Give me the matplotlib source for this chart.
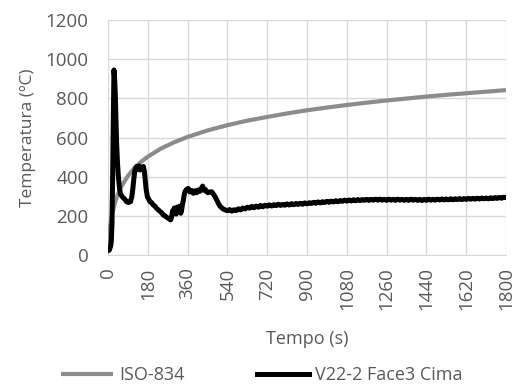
import numpy as np
import matplotlib.pyplot as plt

# ── Data ──
iso_t = [0, 10, 20, 30, 45, 60, 90, 120, 150, 180, 240, 300, 360, 450, 540,
         630, 720, 810, 900, 990, 1080, 1170, 1260, 1350, 1440, 1530, 1620,
         1710, 1800]
iso_T = [20, 147, 215, 261, 312, 349, 404, 445, 476, 502, 544, 576, 603, 636,
         663, 686, 705, 723, 739, 753, 766, 778, 789, 799, 809, 818, 826, 834,
         842]

# first 500 s of the thermocouple record (irregular readings)
v22_t_early = [0, 6, 12, 15, 18, 21, 24, 27, 30, 33, 36, 39, 43, 47, 52, 57,
               63, 69, 76, 84, 92, 102, 108, 112, 117, 121, 126, 130, 135, 140,
               145, 150, 155, 160, 164, 167, 172, 178, 184, 190, 197, 205, 212,
               220, 228, 236, 243, 250, 258, 266, 273, 279, 283, 288, 292, 296,
               300, 304, 308, 313, 318, 322, 326, 329, 333, 337, 341, 345, 348,
               355, 363, 370, 378, 386, 394, 401, 408, 415, 422, 428, 434, 440,
               446, 452, 460, 469, 476, 484, 490, 499, 505]
v22_T_early = [22, 25, 45, 70, 160, 400, 700, 945, 900, 820, 700, 570, 470,
               400, 340, 310, 300, 292, 285, 272, 268, 272, 300, 335, 390, 428,
               445, 452, 438, 455, 434, 448, 440, 452, 430, 400, 340, 298, 285,
               272, 268, 255, 250, 238, 230, 222, 215, 204, 200, 192, 187, 182,
               179, 195, 225, 221, 240, 212, 209, 245, 238, 222, 250, 213, 230,
               260, 281, 310, 323, 335, 340, 322, 330, 315, 328, 318, 332, 325,
               340, 352, 330, 335, 323, 318, 322, 323, 312, 298, 285, 264, 252]

# 510 s .. 1800 s, one reading every 10 s
v22_t_late = list(range(510, 1801, 10))
v22_T_late = [245, 236, 230, 226, 232, 224, 231, 227, 236, 230,
              240, 235, 244, 239, 248, 241, 250, 244, 253, 246,
              254, 249, 256, 250, 257, 252, 259, 253, 258, 254,
              261, 255, 262, 257, 263, 258, 264, 259, 266, 261,
              267, 263, 269, 264, 271, 266, 272, 268, 274, 269,
              275, 271, 277, 272, 278, 274, 280, 275, 281, 276,
              282, 277, 283, 278, 283, 279, 284, 279, 284, 280,
              285, 280, 285, 280, 284, 279, 285, 280, 284, 279,
              285, 280, 284, 279, 284, 279, 285, 280, 284, 279,
              284, 278, 284, 279, 285, 280, 284, 280, 285, 281,
              286, 281, 286, 282, 287, 282, 287, 283, 288, 283,
              288, 284, 289, 285, 289, 285, 290, 286, 291, 287,
              291, 287, 292, 288, 293, 289, 294, 290, 295, 293]

x_ticks = [0, 180, 360, 540, 720, 900, 1080, 1260, 1440, 1620, 1800]
y_ticks = [0, 200, 400, 600, 800, 1000, 1200]

TXT = "#595959"
GRID = "#d9d9d9"
plt.rcParams["font.family"] = ["Open Sans", "DejaVu Sans"]

fig = plt.figure(figsize=(5.23, 3.85), dpi=100)
ax = fig.add_axes([0.2065, 0.3377, 0.761, 0.6103])

ax.plot(iso_t, iso_T, color="#8c8c8c", linewidth=3.0, label="ISO-834",
        solid_capstyle="butt")
ax.plot(v22_t_early + v22_t_late, v22_T_early + v22_T_late, color="black",
        linewidth=3.6, label="V22-2 Face3 Cima", solid_joinstyle="round")

ax.set_xlim(0, 1800)
ax.set_ylim(0, 1200)
ax.set_xticks(x_ticks)
ax.set_yticks(y_ticks)
ax.set_xticklabels([str(v) for v in x_ticks], rotation=90)
ax.grid(True, color=GRID, linewidth=1.0)
ax.set_axisbelow(True)
for s in ["top", "right", "left"]:
    ax.spines[s].set_visible(False)
ax.spines["bottom"].set_color(GRID)
ax.tick_params(length=0, colors=TXT, labelsize=13.5)
ax.tick_params(axis="x", pad=9)
ax.tick_params(axis="y", pad=14)

ax.set_xlabel("Tempo (s)", color=TXT, fontsize=13)
ax.xaxis.set_label_coords(0.5, -0.32)
ax.set_ylabel("Temperatura (ºC)", color=TXT, fontsize=12.5)
ax.yaxis.set_label_coords(-0.18, 0.5)

leg = fig.legend(loc="center", bbox_to_anchor=(0.5, 0.026), ncol=2,
                 frameon=False, fontsize=13, handlelength=2.9,
                 columnspacing=4.0, handletextpad=0.33)
for t in leg.get_texts():
    t.set_color(TXT)

fig.savefig("out.png", dpi=100)
